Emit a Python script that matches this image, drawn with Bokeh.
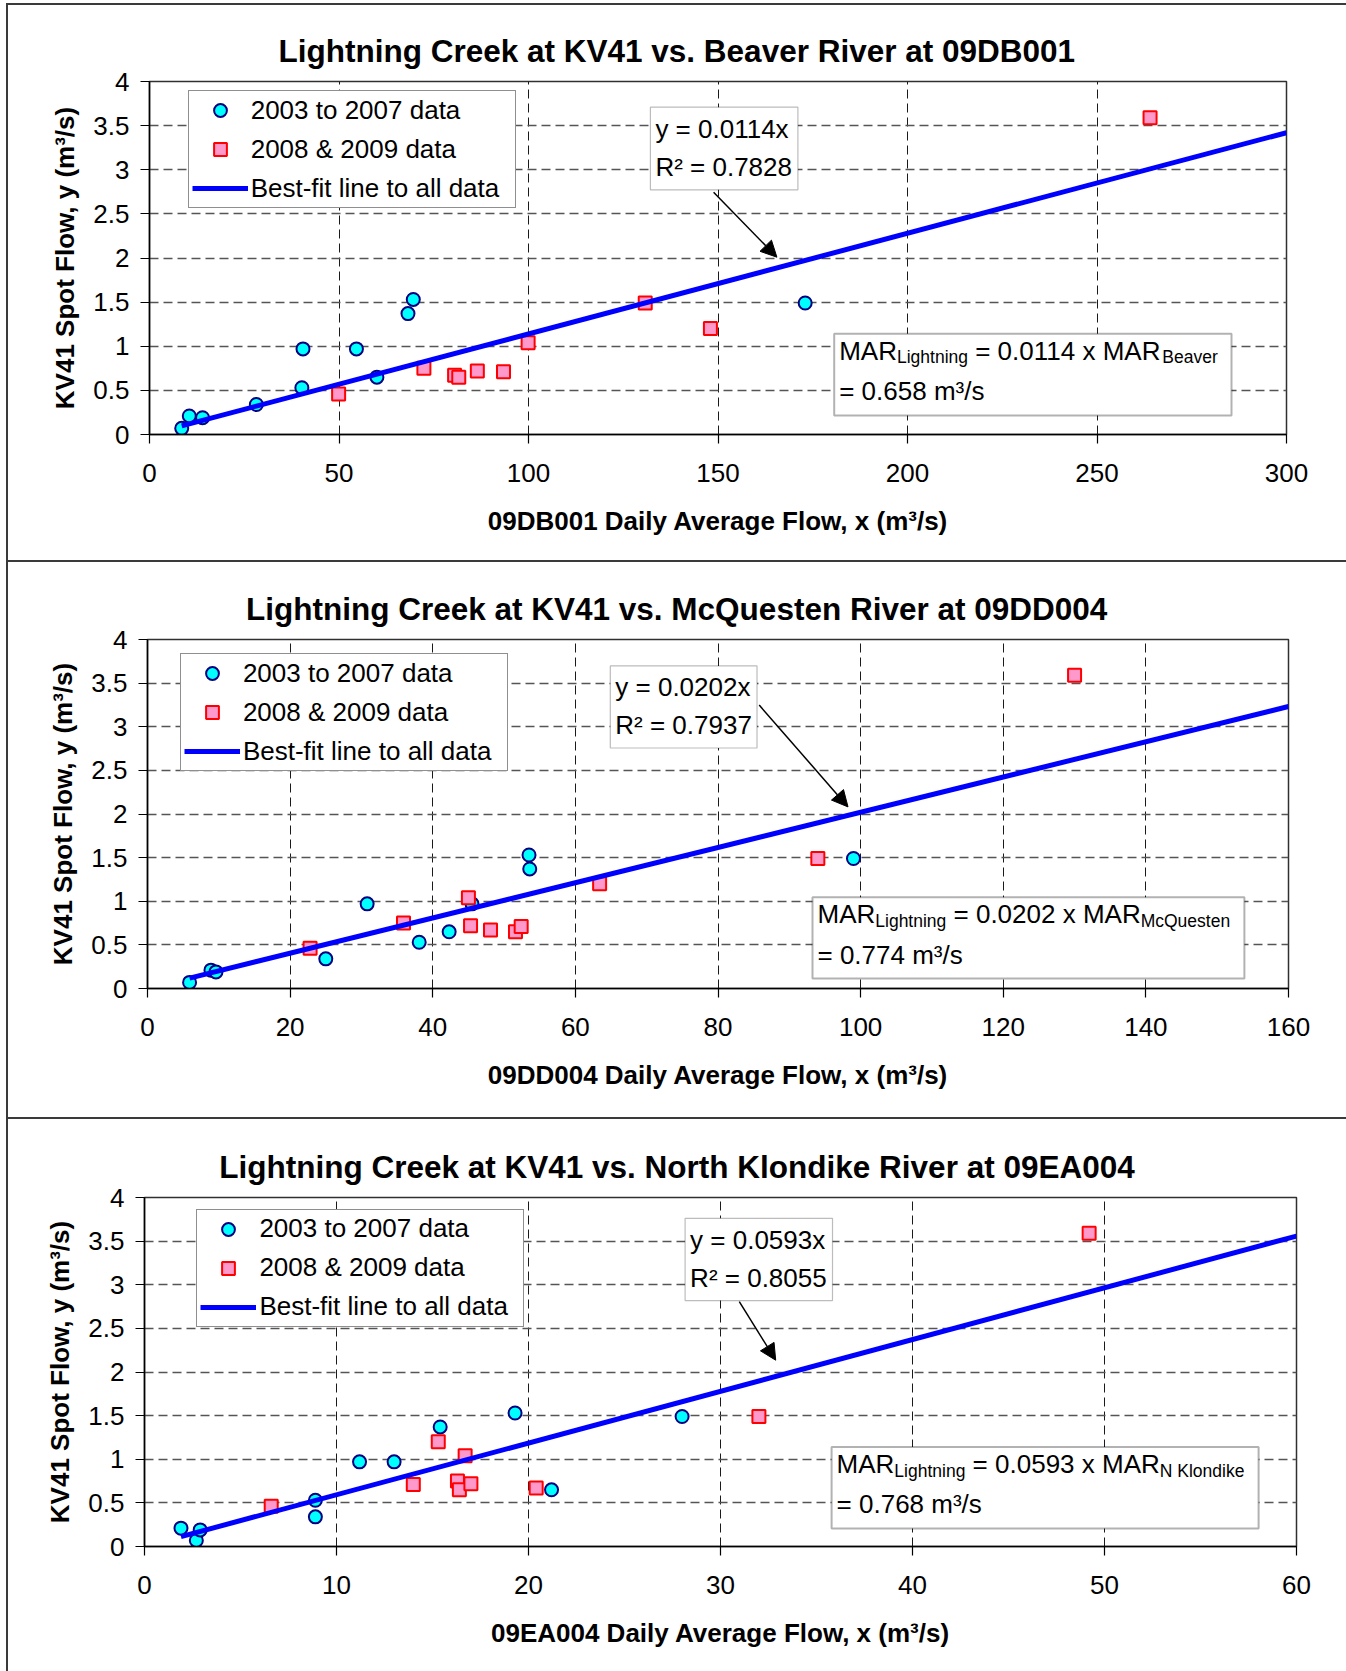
from bokeh.plotting import figure
from bokeh.models import (Range1d, FixedTicker, NumeralTickFormatter, Legend, LegendItem,
                          Label, BoxAnnotation, Arrow, NormalHead, Div)
from bokeh.layouts import column, row
from bokeh.embed import file_html
from bokeh.resources import INLINE

FONT = "Liberation Sans"

# ---------------- data ----------------
# KV41 spot flows (y), shared by all three panels
kv41_0307 = [0.07, 0.21, 0.19, 0.34, 0.53, 0.97, 0.97, 0.65, 1.37, 1.53, 1.49]
kv41_0809 = [0.46, 0.75, 0.67, 0.65, 0.72, 0.71, 1.04, 1.49, 1.20, 3.59]

# matching daily average flows (x) at each regional station
beaver_0307 = [8.5, 10.5, 14.0, 28.2, 40.2, 40.5, 54.6, 60.0, 68.2, 69.6, 173.0]
beaver_0809 = [49.9, 72.4, 80.5, 81.6, 86.5, 93.4, 99.9, 130.8, 148.0, 264.0]

mcquesten_0307 = [5.9, 8.9, 9.6, 25.0, 38.1, 30.8, 45.5, 42.3, 53.6, 53.5, 99.0]
mcquesten_0809 = [22.8, 35.9, 48.1, 51.6, 45.3, 52.4, 45.0, 94.0, 63.4, 130.0]

nklondike_0307 = [2.7, 1.9, 2.9, 8.9, 8.9, 11.2, 13.0, 21.2, 15.4, 19.3, 28.0]
nklondike_0809 = [6.6, 16.3, 20.4, 16.4, 17.0, 14.0, 16.7, 32.0, 15.3, 49.2]

titles = ["Lightning Creek at KV41 vs. Beaver River at 09DB001",
          "Lightning Creek at KV41 vs. McQuesten River at 09DD004",
          "Lightning Creek at KV41 vs. North Klondike River at 09EA004"]
x_titles = ["09DB001 Daily Average Flow, x (m\u00b3/s)",
            "09DD004 Daily Average Flow, x (m\u00b3/s)",
            "09EA004 Daily Average Flow, x (m\u00b3/s)"]
y_title = "KV41 Spot Flow, y (m\u00b3/s)"
x_ticks = [[0, 50, 100, 150, 200, 250, 300],
           [0, 20, 40, 60, 80, 100, 120, 140, 160],
           [0, 10, 20, 30, 40, 50, 60]]
y_ticks = [0, 0.5, 1, 1.5, 2, 2.5, 3, 3.5, 4]
slopes = [0.0114, 0.0202, 0.0593]
r_squared = [0.7828, 0.7937, 0.8055]
mar_subscripts = ["Beaver", "McQuesten", "N Klondike"]
mar_values = [0.658, 0.774, 0.768]
legend_labels = ["2003 to 2007 data", "2008 & 2009 data", "Best-fit line to all data"]

xs_0307 = [beaver_0307, mcquesten_0307, nklondike_0307]
xs_0809 = [beaver_0809, mcquesten_0809, nklondike_0809]

# ---------------- layout geometry (page pixels) ----------------
FIG_X0 = 8          # page x where the panel area starts (after left frame line)
COL_W = 1338
BORDER_L = 136      # common left border of all figures (plots in a column get aligned)
BORDER_R = 40       # common right border
LINE = "#3a3a3a"
TEXT_SHIFT = 9      # baseline correction for labels
GEOM = [
    dict(fig_top=5, fig_h=555, L=149, R=1286, T=81.5, B=434.7, title_left=278,
         legend=(187.7, 208.3), eq=(649.9, 106.7, 797.4, 189.3),
         arrow=(713.1, 191.7, 776.4, 256.7), mar=(833.7, 333.3, 1231.0, 415.0)),
    dict(fig_top=562, fig_h=555, L=147.3, R=1288, T=639.3, B=988.6, title_left=245.5,
         legend=(179.9, 771.4), eq=(609.8, 665.4, 756.5, 747.5),
         arrow=(758.7, 704.6, 847.5, 806.4), mar=(812.0, 896.8, 1243.9, 977.9)),
    dict(fig_top=1119, fig_h=552, L=143.75, R=1295.7, T=1196.6, B=1546, title_left=218.75,
         legend=(196.4, 1326.7), eq=(684.6, 1217.8, 832.0, 1300.1),
         arrow=(738.8, 1301.2, 775.2, 1359.7), mar=(831.1, 1446.6, 1258.1, 1528.1)),
]

ARIAL = {' ': 278, '.': 278, '=': 584, 'x': 500, 'M': 833, 'A': 667, 'R': 722, 'L': 556,
         'i': 222, 'g': 556, 'h': 556, 't': 278, 'n': 556, 'B': 667, 'e': 556, 'a': 556,
         'v': 500, 'r': 333, 'c': 500, 'Q': 778, 'u': 556, 's': 500, 'N': 722, 'K': 667,
         'l': 222, 'o': 556, 'd': 556, 'k': 500, 'm': 833}


def text_w(s, size):
    return sum(ARIAL.get(c, 556) for c in s) / 1000.0 * size


def make_panel(i):
    g = GEOM[i]
    xmax = x_ticks[i][-1]
    spacer = max(0, int(round(g["L"] - FIG_X0 - BORDER_L)))
    Lc = FIG_X0 + spacer + BORDER_L
    fig_w = int(round(g["R"] - Lc)) + BORDER_L + BORDER_R
    Rc = FIG_X0 + spacer + fig_w - BORDER_R
    mbt = int(round(g["T"] - g["fig_top"]))
    fh = int(round(g["B"] - g["T"]))
    mbb = g["fig_h"] - mbt - fh
    Tc = g["fig_top"] + mbt
    Bc = Tc + fh

    def px2x(px):
        return xmax * (px - Lc) / (Rc - Lc)

    def py2y(py):
        return 4.0 * (Bc - py) / (Bc - Tc)

    p = figure(width=fig_w, height=g["fig_h"], x_range=Range1d(0, xmax), y_range=Range1d(0, 4),
               output_backend="svg", toolbar_location=None,
               min_border_left=BORDER_L, min_border_right=BORDER_R,
               min_border_top=mbt, min_border_bottom=mbb)
    p.background_fill_color = "white"
    p.border_fill_color = "white"
    p.outline_line_color = "#303030"
    p.outline_line_width = 1.5

    p.title.text = titles[i]
    p.title.align = "left"
    p.title.offset = g["title_left"] - Lc
    p.title.text_font = FONT
    p.title.text_font_size = "31.5px"
    p.title.text_font_style = "bold"
    p.title.text_color = "black"
    p.title.standoff = 25

    # grid
    p.xgrid.grid_line_color = "#1a1a1a"
    p.xgrid.grid_line_dash = "9 5"
    p.xgrid.grid_line_width = 1
    p.ygrid.grid_line_color = "#555555"
    p.ygrid.grid_line_dash = "9 5"
    p.ygrid.grid_line_width = 1.3

    # axes
    for ax in (p.xaxis[0], p.yaxis[0]):
        ax.axis_line_color = "black"
        ax.axis_line_width = 1.5
        ax.major_tick_line_color = "black"
        ax.major_tick_line_width = 1.2
        ax.major_tick_out = 9
        ax.major_tick_in = 0
        ax.minor_tick_out = 0
        ax.minor_tick_in = 0
        ax.major_label_text_font = FONT
        ax.major_label_text_font_size = "26px"
        ax.major_label_text_color = "black"
        ax.axis_label_text_font = FONT
        ax.axis_label_text_font_size = "26px"
        ax.axis_label_text_font_style = "bold"
        ax.axis_label_text_color = "black"
    xa = p.xaxis[0]
    xa.ticker = FixedTicker(ticks=x_ticks[i])
    xa.axis_label = x_titles[i]
    xa.major_label_standoff = 20
    xa.axis_label_standoff = 21
    ya = p.yaxis[0]
    ya.ticker = FixedTicker(ticks=y_ticks)
    ya.formatter = NumeralTickFormatter(format="0.[0]")
    ya.axis_label = y_title
    ya.major_label_standoff = 11
    ya.axis_label_standoff = 10

    # data
    r_old = p.scatter(xs_0307[i], kv41_0307, marker="circle", size=13,
                      fill_color="#00FFFF", line_color="#000080", line_width=2)
    r_new = p.scatter(xs_0809[i], kv41_0809, marker="square", size=13,
                      fill_color="#FF99CC", line_color="#FF0000", line_width=2)
    x0 = min(xs_0307[i] + xs_0809[i])
    r_fit = p.line([x0, xmax], [slopes[i] * x0, slopes[i] * xmax],
                   line_color="#0000FF", line_width=5)

    # legend
    lx, lb = g["legend"]
    legend = Legend(items=[LegendItem(label=legend_labels[0], renderers=[r_old]),
                           LegendItem(label=legend_labels[1], renderers=[r_new]),
                           LegendItem(label=legend_labels[2], renderers=[r_fit])],
                    location=(lx - Lc, Bc - lb), orientation="vertical",
                    label_text_font=FONT, label_text_font_size="26px", label_text_color="black",
                    glyph_width=56, glyph_height=32, label_standoff=3, label_width=261,
                    label_height=20, spacing=7, padding=3, margin=0,
                    border_line_color="#202020", border_line_width=1.2,
                    background_fill_color="white", background_fill_alpha=1.0)
    p.add_layout(legend, "center")

    def add_text(xpx, ypx, text, size):
        p.add_layout(Label(x=px2x(xpx), y=py2y(ypx - TEXT_SHIFT), text=text, text_font=FONT,
                           text_font_size=f"{size}px", text_color="black",
                           text_align="left", text_baseline="alphabetic"))

    # equation box
    el, et, er, eb = g["eq"]
    p.add_layout(BoxAnnotation(left=px2x(el), right=px2x(er), top=py2y(et), bottom=py2y(eb),
                               fill_color="white", fill_alpha=1.0,
                               line_color="#202020", line_width=1.2))
    add_text(el + 5, et + 30.5, f"y = {slopes[i]:.4f}x", 26)
    add_text(el + 5, et + 68.5, f"R\u00b2 = {r_squared[i]:.4f}", 26)

    # arrow
    ax0, ay0, ax1, ay1 = g["arrow"]
    p.add_layout(Arrow(end=NormalHead(size=16, fill_color="black", line_color="black", line_width=1),
                       x_start=px2x(ax0), y_start=py2y(ay0), x_end=px2x(ax1), y_end=py2y(ay1),
                       line_color="black", line_width=1.5))

    # MAR box
    ml, mt, mr, mb = g["mar"]
    p.add_layout(BoxAnnotation(left=px2x(ml), right=px2x(mr), top=py2y(mt), bottom=py2y(mb),
                               fill_color="white", fill_alpha=1.0,
                               line_color="black", line_width=2))
    pieces = [("MAR", 26, 0.0), ("Lightning", 17.5, 6.7),
              (f" = {slopes[i]:.4f} x MAR", 26, 0.0), (mar_subscripts[i], 17.5, 6.7)]
    cx = ml + 5
    for txt, sz, drop in pieces:
        stripped = txt.lstrip(" ")
        cx += text_w(txt[:len(txt) - len(stripped)], sz)
        add_text(cx, mt + 25.7 + drop, stripped, sz)
        cx += text_w(stripped, sz)
    add_text(ml + 5, mt + 66.3, f"= {mar_values[i]:.3f} m\u00b3/s", 26)

    if spacer > 0:
        return row(Div(width=spacer, height=g["fig_h"], margin=0), p, spacing=0)
    return p


panels = [make_panel(i) for i in range(3)]


def hline():
    return Div(width=COL_W, height=2, margin=0, styles={"background-color": LINE})


right_col = column(Div(width=COL_W, height=3, margin=0), hline(), panels[0], hline(), panels[1],
                   hline(), panels[2], spacing=0)
left_col = column(Div(width=2, height=3, margin=0),
                  Div(width=2, height=1668, margin=0, styles={"background-color": LINE}),
                  spacing=0)
layout = row(Div(width=6, height=1671, margin=0), left_col, right_col, spacing=0)

open("out.html", "w").write(file_html(layout, INLINE))
